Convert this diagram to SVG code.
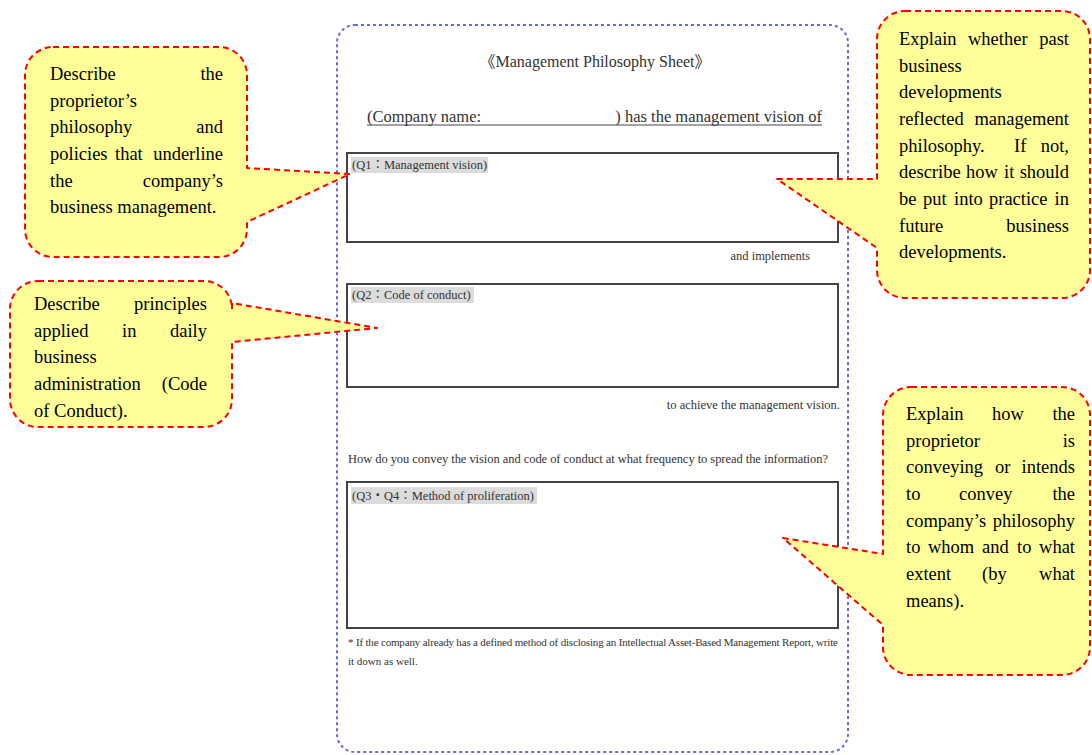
<svg xmlns="http://www.w3.org/2000/svg" width="1092" height="755" viewBox="0 0 1092 755">
<style>
.sheet{fill:#fff;stroke:#6a6ae0;stroke-width:2;stroke-dasharray:3 3}
.qbox{fill:#fff;stroke:#444;stroke-width:2}
.hl{fill:#dcdcdc}
.st{font-family:"Liberation Serif","Noto Sans CJK JP",serif;fill:#333}
.lbl{font-size:12.5px}
.sm{font-size:12.5px}
.ft{font-size:11px}
.callout{fill:#ffff99;stroke:#ff0000;stroke-width:2;stroke-dasharray:6 4;stroke-linejoin:round}
.ct{font-family:"Liberation Serif",serif;font-size:18.5px;fill:#000}
.e{text-anchor:end}
</style>
<g id="sheet">
<rect class="sheet" x="337" y="25" width="511" height="727" rx="18"/>
<text class="st" x="595" y="67" text-anchor="middle" font-size="16">《Management Philosophy Sheet》</text>
<text class="st" x="367" y="122" font-size="16.5">(Company name:</text>
<text class="st e" x="822" y="122" font-size="16.5">) has the management vision of</text>
<line x1="367" y1="125" x2="822" y2="125" stroke="#444" stroke-width="1"/>
</g>
<g id="q1">
<rect class="qbox" x="347" y="153" width="491" height="89"/>
<rect class="hl" x="351" y="157" width="137" height="16"/>
<text class="st lbl" x="352" y="169">(Q1：Management vision)</text>
</g>
<text class="st sm e" x="810" y="260">and implements</text>
<g id="q2">
<rect class="qbox" x="347" y="284" width="491" height="103"/>
<rect class="hl" x="351" y="287" width="123" height="16"/>
<text class="st lbl" x="352" y="299">(Q2：Code of conduct)</text>
</g>
<text class="st sm e" x="840" y="409">to achieve the management vision.</text>
<text class="st sm" x="348" y="463" textLength="480" lengthAdjust="spacing">How do you convey the vision and code of conduct at what frequency to spread the information?</text>
<g id="q3">
<rect class="qbox" x="347" y="482" width="491" height="146"/>
<rect class="hl" x="351" y="487" width="186" height="17"/>
<text class="st lbl" x="352" y="500">(Q3・Q4：Method of proliferation)</text>
</g>
<text class="st ft" x="348" y="646" textLength="490" lengthAdjust="spacing">* If the company already has a defined method of disclosing an Intellectual Asset-Based Management Report, write</text>
<text class="st ft" x="348" y="665">it down as well.</text>

<g id="callout-philosophy">
<path class="callout" d="M53,47 H219 A28,28 0 0 1 247,75 V168 L350,174 L247,222 V229 A28,28 0 0 1 219,257 H53 A28,28 0 0 1 25,229 V75 A28,28 0 0 1 53,47 Z"/>
<text class="ct" x="50" y="80">Describe</text><text class="ct e" x="223" y="80">the</text>
<text class="ct" x="50" y="106.7">proprietor’s</text>
<text class="ct" x="50" y="133.3">philosophy</text><text class="ct e" x="223" y="133.3">and</text>
<text class="ct" x="50" y="160">policies</text><text class="ct" x="115" y="160">that</text><text class="ct e" x="223" y="160">underline</text>
<text class="ct" x="50" y="186.7">the</text><text class="ct e" x="223" y="186.7">company’s</text>
<text class="ct" x="50" y="213.3">business management.</text>
</g>
<g id="callout-conduct">
<path class="callout" d="M38,281 H204 A28,28 0 0 1 232,309 V303 L377,328 L232,342 V399 A28,28 0 0 1 204,427 H38 A28,28 0 0 1 10,399 V309 A28,28 0 0 1 38,281 Z"/>
<text class="ct" x="34" y="310">Describe</text><text class="ct e" x="207" y="310">principles</text>
<text class="ct" x="34" y="336.7">applied</text><text class="ct" x="122" y="336.7">in</text><text class="ct e" x="207" y="336.7">daily</text>
<text class="ct" x="34" y="363.3">business</text>
<text class="ct" x="34" y="390">administration</text><text class="ct e" x="207" y="390">(Code</text>
<text class="ct" x="34" y="416.7">of Conduct).</text>
</g>
<g id="callout-past">
<path class="callout" d="M905,11 H1062 A28,28 0 0 1 1090,39 V270 A28,28 0 0 1 1062,298 H905 A28,28 0 0 1 877,270 V248 L777,179 L877,179 V39 A28,28 0 0 1 905,11 Z"/>
<text class="ct" x="899" y="45">Explain</text><text class="ct" x="968" y="45">whether</text><text class="ct e" x="1069" y="45">past</text>
<text class="ct" x="899" y="71.7">business</text>
<text class="ct" x="899" y="98.3">developments</text>
<text class="ct" x="899" y="125">reflected</text><text class="ct e" x="1069" y="125">management</text>
<text class="ct" x="899" y="151.7">philosophy.</text><text class="ct" x="1014" y="151.7">If</text><text class="ct e" x="1069" y="151.7">not,</text>
<text class="ct" x="899" y="178.3">describe</text><text class="ct" x="966" y="178.3">how</text><text class="ct" x="1004" y="178.3">it</text><text class="ct e" x="1069" y="178.3">should</text>
<text class="ct" x="899" y="205">be</text><text class="ct" x="923" y="205">put</text><text class="ct" x="954" y="205">into</text><text class="ct" x="989" y="205">practice</text><text class="ct e" x="1069" y="205">in</text>
<text class="ct" x="899" y="231.7">future</text><text class="ct e" x="1069" y="231.7">business</text>
<text class="ct" x="899" y="258.3">developments.</text>
</g>
<g id="callout-convey">
<path class="callout" d="M911,387 H1062 A28,28 0 0 1 1090,415 V647 A28,28 0 0 1 1062,675 H911 A28,28 0 0 1 883,647 V625 L783,538 L883,554 V415 A28,28 0 0 1 911,387 Z"/>
<text class="ct" x="906" y="420">Explain</text><text class="ct" x="992" y="420">how</text><text class="ct e" x="1075" y="420">the</text>
<text class="ct" x="906" y="446.7">proprietor</text><text class="ct e" x="1075" y="446.7">is</text>
<text class="ct" x="906" y="473.3">conveying</text><text class="ct" x="995" y="473.3">or</text><text class="ct e" x="1075" y="473.3">intends</text>
<text class="ct" x="906" y="500">to</text><text class="ct" x="959" y="500">convey</text><text class="ct e" x="1075" y="500">the</text>
<text class="ct" x="906" y="526.7">company’s</text><text class="ct e" x="1075" y="526.7">philosophy</text>
<text class="ct" x="906" y="553.3">to</text><text class="ct" x="928" y="553.3">whom</text><text class="ct" x="982" y="553.3">and</text><text class="ct" x="1017" y="553.3">to</text><text class="ct e" x="1075" y="553.3">what</text>
<text class="ct" x="906" y="580">extent</text><text class="ct" x="982" y="580">(by</text><text class="ct e" x="1075" y="580">what</text>
<text class="ct" x="906" y="606.7">means).</text>
</g>
</svg>
